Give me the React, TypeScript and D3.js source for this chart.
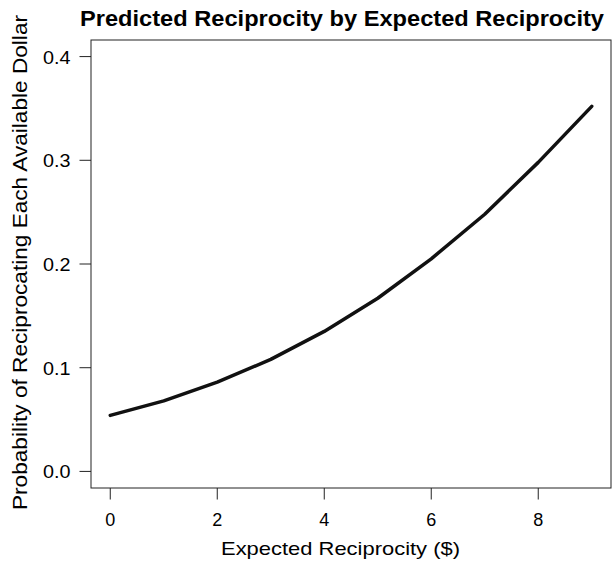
import React, { useEffect, useRef } from "react";
import * as d3 from "d3";

// expected reciprocity ($) and predicted probability
const expected = [0, 1, 2, 3, 4, 5, 6, 7, 8, 9];
const predicted = [0.054, 0.068, 0.086, 0.108, 0.135, 0.167, 0.205, 0.248, 0.298, 0.352];
const xTicks = [0, 2, 4, 6, 8];
const yTicks = [0.0, 0.1, 0.2, 0.3, 0.4];

export default function App() {
    const svgRef = useRef<SVGSVGElement>(null);

    useEffect(() => {
        const svg = d3.select(svgRef.current);
        svg.selectAll("*").remove();

        const width = 614;
        const height = 561;
        const box = { left: 91, right: 611, top: 40, bottom: 488 };
        const font = "'Liberation Sans', Arial, Helvetica, sans-serif";

        // R style 4% padding on both axes
        const x = d3.scaleLinear().domain([-0.36, 9.36]).range([box.left, box.right]);
        const y = d3.scaleLinear().domain([-0.016, 0.416]).range([box.bottom, box.top]);

        svg.attr("width", width).attr("height", height).style("font-family", font);

        //plot box
        svg.append("rect")
            .attr("x", box.left).attr("y", box.top)
            .attr("width", box.right - box.left).attr("height", box.bottom - box.top)
            .attr("fill", "none").attr("stroke", "#222").attr("stroke-width", 1);

        //x axis ticks and labels
        const xg = svg.append("g");
        xTicks.forEach((t) => {
            xg.append("line")
                .attr("x1", x(t)).attr("x2", x(t))
                .attr("y1", box.bottom).attr("y2", box.bottom + 11.5)
                .attr("stroke", "#222");
            xg.append("text")
                .attr("x", x(t)).attr("y", 526)
                .attr("text-anchor", "middle").attr("font-size", 18)
                .text(t);
        });

        //y axis ticks and labels
        const yg = svg.append("g");
        yTicks.forEach((t) => {
            yg.append("line")
                .attr("x1", box.left - 11.5).attr("x2", box.left)
                .attr("y1", y(t)).attr("y2", y(t))
                .attr("stroke", "#222");
            yg.append("text")
                .attr("x", 43).attr("y", y(t) + 7)
                .attr("font-size", 18)
                .attr("textLength", 27.5).attr("lengthAdjust", "spacingAndGlyphs")
                .text(t.toFixed(1));
        });

        //the curve
        const line = d3.line<number>()
            .x((d, i) => x(expected[i]))
            .y((d) => y(d));
        svg.append("path")
            .datum(predicted)
            .attr("d", line)
            .attr("fill", "none")
            .attr("stroke", "#111")
            .attr("stroke-width", 3.5)
            .attr("stroke-linecap", "round")
            .attr("stroke-linejoin", "round");

        //titles
        svg.append("text")
            .attr("x", 80).attr("y", 26)
            .attr("font-size", 21.5).attr("font-weight", "bold")
            .attr("textLength", 524).attr("lengthAdjust", "spacingAndGlyphs")
            .text("Predicted Reciprocity by Expected Reciprocity");
        svg.append("text")
            .attr("x", 221).attr("y", 555)
            .attr("font-size", 19)
            .attr("textLength", 239).attr("lengthAdjust", "spacingAndGlyphs")
            .text("Expected Reciprocity ($)");
        svg.append("text")
            .attr("transform", "translate(27,510) rotate(-90)")
            .attr("font-size", 21)
            .attr("textLength", 495).attr("lengthAdjust", "spacingAndGlyphs")
            .text("Probability of Reciprocating Each Available Dollar");
    }, []);

    return (
        <div style={{ position: "absolute", left: 0, top: 0 }}>
            <svg ref={svgRef}></svg>
        </div>
    );
}
